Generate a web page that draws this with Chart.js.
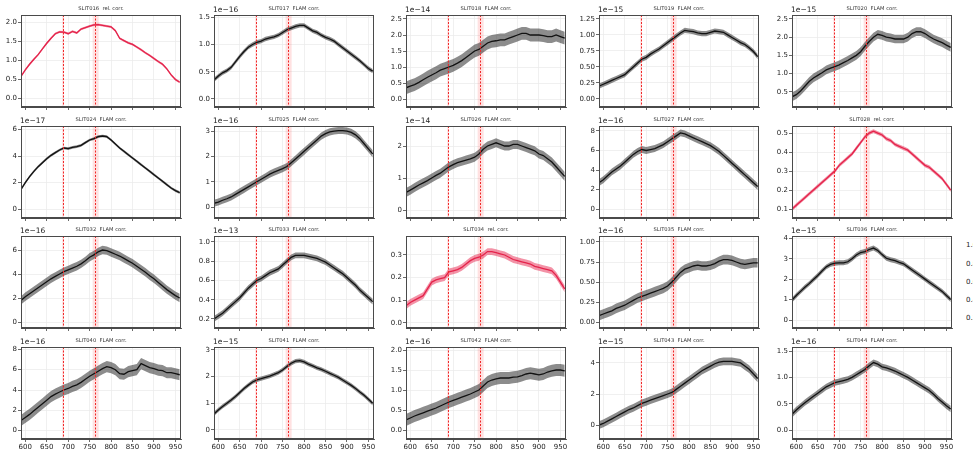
<!DOCTYPE html>
<html><head><meta charset="utf-8">
<script src="https://cdn.jsdelivr.net/npm/chart.js@4.4.1/dist/chart.umd.min.js"></script>
<style>
html,body{margin:0;padding:0;background:#fff;overflow:hidden;width:977px;height:457px;}
#wrap{position:relative;width:977px;height:457px;overflow:hidden;}
canvas{position:absolute;}
#side{position:absolute;left:966px;top:0;width:7px;height:457px;overflow:hidden;}
.cb{position:absolute;left:0;font:7px 'DejaVu Sans',sans-serif;color:#222;line-height:8px;white-space:nowrap;}
</style></head><body><div id="wrap"><div id="side"></div></div>
<script>
// Wavelength grid (nm)
const WL=[590,600,610,620,630,640,650,660,670,680,690,700,710,720,730,740,750,760,770,780,790,800,810,820,830,840,850,860,870,880,890,900,910,920,930,940,950,960];

// Spectra (values in the units shown on each panel's axis)
const slit016=[0.58,0.75,0.90,1.03,1.15,1.30,1.45,1.58,1.70,1.75,1.74,1.70,1.76,1.72,1.82,1.86,1.90,1.93,1.94,1.92,1.90,1.88,1.78,1.58,1.52,1.46,1.42,1.35,1.28,1.20,1.13,1.05,0.97,0.90,0.78,0.62,0.50,0.43];
const slit017=[0.35,0.42,0.48,0.52,0.58,0.68,0.78,0.87,0.95,1.00,1.04,1.06,1.10,1.12,1.14,1.17,1.22,1.27,1.30,1.33,1.35,1.35,1.30,1.25,1.22,1.17,1.13,1.10,1.06,1.00,0.94,0.88,0.82,0.76,0.70,0.63,0.56,0.51];
const slit018=[0.35,0.40,0.45,0.52,0.60,0.68,0.75,0.82,0.90,0.95,1.00,1.05,1.12,1.20,1.30,1.40,1.50,1.55,1.65,1.75,1.80,1.82,1.85,1.85,1.90,1.95,2.00,2.05,2.05,2.00,2.00,2.00,1.98,1.95,1.95,2.00,1.95,1.90];
const slit019=[0.20,0.23,0.26,0.29,0.32,0.35,0.38,0.44,0.50,0.56,0.62,0.65,0.70,0.74,0.78,0.83,0.88,0.93,0.98,1.03,1.07,1.06,1.05,1.03,1.02,1.02,1.04,1.06,1.05,1.04,1.00,0.96,0.92,0.88,0.85,0.80,0.74,0.66];
const slit020=[0.36,0.42,0.52,0.65,0.78,0.88,0.95,1.02,1.10,1.15,1.19,1.24,1.30,1.36,1.43,1.50,1.60,1.75,1.88,2.00,2.08,2.05,2.00,1.98,1.95,1.95,1.95,2.00,2.10,2.15,2.15,2.10,2.02,1.95,1.90,1.85,1.78,1.72];
const slit024=[1.5,2.0,2.45,2.85,3.2,3.5,3.8,4.05,4.25,4.45,4.6,4.55,4.65,4.7,4.8,5.0,5.2,5.3,5.45,5.5,5.45,5.2,4.9,4.6,4.35,4.1,3.85,3.6,3.35,3.1,2.85,2.6,2.35,2.1,1.85,1.6,1.4,1.25];
const slit025=[0.15,0.2,0.27,0.33,0.4,0.5,0.6,0.7,0.8,0.9,1.0,1.1,1.2,1.3,1.38,1.45,1.52,1.6,1.75,1.9,2.05,2.2,2.35,2.5,2.65,2.8,2.9,2.97,3.0,3.02,3.02,3.0,2.95,2.85,2.7,2.5,2.3,2.1];
const slit026=[0.55,0.62,0.7,0.78,0.85,0.92,1.0,1.08,1.15,1.25,1.35,1.42,1.48,1.52,1.56,1.6,1.65,1.75,1.9,2.0,2.05,2.1,2.05,2.0,2.0,2.05,2.05,2.0,1.95,1.9,1.85,1.75,1.7,1.6,1.5,1.35,1.2,1.05];
const slit027=[2.7,3.0,3.4,3.8,4.1,4.4,4.8,5.2,5.6,5.9,6.1,6.0,6.1,6.2,6.4,6.6,6.9,7.2,7.5,7.8,7.7,7.5,7.3,7.1,6.9,6.7,6.5,6.2,5.9,5.5,5.1,4.7,4.3,3.9,3.5,3.1,2.7,2.3];
const slit028=[0.1,0.12,0.14,0.16,0.18,0.2,0.22,0.24,0.26,0.28,0.3,0.33,0.35,0.37,0.39,0.42,0.45,0.48,0.5,0.51,0.5,0.49,0.47,0.46,0.44,0.43,0.42,0.41,0.39,0.37,0.35,0.33,0.32,0.3,0.28,0.26,0.23,0.2];
const slit032=[1.8,2.1,2.35,2.6,2.85,3.1,3.35,3.6,3.8,4.0,4.2,4.35,4.5,4.65,4.85,5.1,5.4,5.6,5.85,6.0,5.95,5.8,5.65,5.5,5.3,5.1,4.9,4.65,4.4,4.15,3.85,3.6,3.3,3.0,2.7,2.45,2.2,2.0];
const slit033=[0.2,0.23,0.26,0.3,0.34,0.38,0.42,0.47,0.52,0.56,0.6,0.62,0.65,0.68,0.7,0.72,0.76,0.8,0.84,0.86,0.86,0.86,0.85,0.84,0.83,0.81,0.79,0.76,0.73,0.7,0.67,0.63,0.59,0.55,0.5,0.46,0.42,0.38];
const slit034=[0.075,0.09,0.1,0.11,0.12,0.15,0.18,0.19,0.195,0.2,0.225,0.23,0.235,0.245,0.26,0.275,0.285,0.29,0.3,0.315,0.315,0.31,0.305,0.3,0.29,0.28,0.275,0.27,0.265,0.26,0.25,0.245,0.24,0.235,0.23,0.21,0.18,0.15];
const slit035=[0.08,0.1,0.12,0.14,0.17,0.19,0.21,0.24,0.27,0.3,0.32,0.34,0.36,0.38,0.4,0.42,0.45,0.5,0.56,0.62,0.66,0.68,0.7,0.71,0.7,0.7,0.71,0.73,0.76,0.78,0.78,0.77,0.75,0.73,0.72,0.73,0.74,0.74];
const slit036=[0.98,1.2,1.4,1.6,1.78,1.98,2.18,2.4,2.6,2.72,2.78,2.8,2.8,2.85,3.0,3.18,3.3,3.35,3.45,3.52,3.4,3.2,3.02,2.95,2.9,2.82,2.75,2.6,2.45,2.3,2.15,2.0,1.85,1.7,1.55,1.4,1.2,1.0];
const slit040=[1.0,1.3,1.6,1.95,2.3,2.65,3.0,3.35,3.6,3.8,4.0,4.15,4.35,4.5,4.75,5.05,5.35,5.6,5.85,6.1,6.3,6.2,6.0,5.6,5.55,5.8,5.9,6.0,6.6,6.4,6.2,6.1,5.95,5.9,5.7,5.7,5.6,5.5];
const slit041=[0.6,0.75,0.88,1.0,1.12,1.25,1.4,1.55,1.68,1.8,1.88,1.92,1.97,2.02,2.08,2.15,2.25,2.38,2.5,2.58,2.6,2.55,2.47,2.4,2.33,2.27,2.2,2.12,2.05,1.97,1.87,1.77,1.67,1.55,1.42,1.3,1.15,1.0];
const slit042=[0.25,0.3,0.35,0.39,0.43,0.47,0.51,0.55,0.6,0.65,0.7,0.74,0.78,0.82,0.86,0.9,0.95,1.0,1.1,1.2,1.25,1.28,1.3,1.3,1.3,1.32,1.33,1.36,1.4,1.42,1.4,1.38,1.4,1.45,1.48,1.5,1.5,1.48];
const slit043=[0.0,0.1,0.25,0.4,0.55,0.7,0.85,1.0,1.1,1.25,1.4,1.5,1.6,1.7,1.8,1.9,2.0,2.1,2.3,2.5,2.7,2.9,3.1,3.3,3.5,3.65,3.8,3.95,4.05,4.1,4.1,4.1,4.05,4.0,3.8,3.6,3.3,3.0];
const slit044=[0.3,0.38,0.45,0.52,0.58,0.64,0.7,0.76,0.82,0.86,0.9,0.92,0.94,0.96,1.0,1.05,1.1,1.15,1.22,1.28,1.25,1.2,1.18,1.15,1.12,1.08,1.04,1.0,0.95,0.9,0.85,0.8,0.75,0.68,0.6,0.53,0.46,0.4];

const panelNames=['SLIT016','SLIT017','SLIT018','SLIT019','SLIT020','SLIT024','SLIT025','SLIT026','SLIT027','SLIT028','SLIT032','SLIT033','SLIT034','SLIT035','SLIT036','SLIT040','SLIT041','SLIT042','SLIT043','SLIT044'];
const panelKinds=['rel. corr.','FLAM corr.','FLAM corr.','FLAM corr.','FLAM corr.','FLAM corr.','FLAM corr.','FLAM corr.','FLAM corr.','rel. corr.','FLAM corr.','FLAM corr.','rel. corr.','FLAM corr.','FLAM corr.','FLAM corr.','FLAM corr.','FLAM corr.','FLAM corr.','FLAM corr.'];
const panelExps=[null,'1e\u221216','1e\u221214','1e\u221215','1e\u221215','1e\u221217','1e\u221216','1e\u221214','1e\u221216',null,'1e\u221216','1e\u221213',null,'1e\u221216','1e\u221215','1e\u221216','1e\u221215','1e\u221216','1e\u221215','1e\u221216'];
const panelSeries=[slit016,slit017,slit018,slit019,slit020,slit024,slit025,slit026,slit027,slit028,slit032,slit033,slit034,slit035,slit036,slit040,slit041,slit042,slit043,slit044];
// typical half-width of the point scatter around each spectrum
const panelScatter=[0.03,0.04,0.2,0.04,0.12,0.1,0.14,0.14,0.35,0.01,0.35,0.03,0.015,0.06,0.12,0.55,0.08,0.15,0.25,0.06];
const yMin=[-0.22,-0.147,-0.25,-0.125,0.08,-0.65,-0.43,-0.25,-0.92,0.053,-0.5,0.106,-0.023,-0.075,-0.39,-0.82,-0.34,-0.225,-0.9,-0.17];
const yMax=[2.19,1.54,2.625,1.31,2.61,6.25,3.2,2.625,8.51,0.537,7.17,1.062,0.384,1.075,4.11,8.23,3.11,2.075,5.03,1.576];
const yStep=[0.5,0.5,0.5,0.25,0.5,2,1,1,2,0.1,2,0.2,0.1,0.25,1,2,1,0.5,2,0.5];
const xTicks=[600,650,700,750,800,850,900,950];
const telluricBands=[[686,690],[757,771]];
const telluricLines=[687.5,761.5];
const sideLabels=['1.0','0.8','0.6','0.4','0.2'];

const colLeft=[21,214,406,599,792];
const rowTop=[15,126,236,347];
const PW=160, PH=92, AXW=30, PADT=15, PADR=6, AXH=20;
const FONT="'DejaVu Sans', sans-serif";

const deco={
  id:'deco',
  beforeDatasetsDraw(chart){
    const {ctx,chartArea:a,scales:{x}}=chart;
    ctx.save();
    ctx.fillStyle='rgba(255,70,70,0.16)';
    telluricBands.forEach(([l,h])=>{
      const x0=x.getPixelForValue(l),x1=x.getPixelForValue(h);
      ctx.fillRect(x0,a.top,x1-x0,a.bottom-a.top);
    });
    ctx.restore();
  },
  afterDatasetsDraw(chart,args,opts){
    const {ctx,chartArea:a,scales:{x}}=chart;
    ctx.save();
    ctx.strokeStyle='rgb(240,40,40)';
    ctx.lineWidth=1;
    ctx.setLineDash([2,1.5]);
    telluricLines.forEach(w=>{
      const px=Math.round(x.getPixelForValue(w))+0.5;
      ctx.beginPath();ctx.moveTo(px,a.top);ctx.lineTo(px,a.bottom);ctx.stroke();
    });
    ctx.setLineDash([]);
    ctx.strokeStyle='#4a4a4a';
    ctx.strokeRect(a.left+0.5,a.top+0.5,a.right-a.left-1,a.bottom-a.top-1);
    ctx.fillStyle='#333';
    ctx.font='5.2px '+FONT;
    ctx.textAlign='center';ctx.textBaseline='middle';
    ctx.fillText(opts.title,(a.left+a.right)/2,a.top-6);
    if(opts.exp){
      ctx.font='7.5px '+FONT;ctx.fillStyle='#222';
      ctx.textAlign='left';
      ctx.fillText(opts.exp,a.left-1,a.top-5);
    }
    ctx.restore();
  }
};

const wrap=document.getElementById('wrap');
panelNames.forEach((name,i)=>{
  const r=Math.floor(i/5), c=i%5;
  const cv=document.createElement('canvas');
  const W=AXW+PW+PADR, H=PADT+PH+AXH;
  cv.width=W;cv.height=H;
  cv.style.left=(colLeft[c]-AXW)+'px';cv.style.top=(rowTop[r]-PADT)+'px';
  cv.style.width=W+'px';cv.style.height=H+'px';
  wrap.appendChild(cv);
  const red=panelKinds[i]==='rel. corr.';
  const s=panelSeries[i], w=panelScatter[i];
  const lo=WL.map((x,k)=>({x,y:s[k]-w}));
  const hi=WL.map((x,k)=>({x,y:s[k]+w}));
  const mid=WL.map((x,k)=>({x,y:s[k]}));
  const fillCol=red?'rgba(232,40,80,0.5)':'rgba(25,25,25,0.5)';
  const lineCol=red?'rgb(226,30,70)':'rgb(10,10,10)';
  const dec=(String(yStep[i]).split('.')[1]||'').length;
  const bottom=(r===3);
  new Chart(cv,{
    type:'line',
    data:{datasets:[
      {data:lo,borderWidth:0,borderColor:'rgba(0,0,0,0)',pointRadius:0,fill:false,tension:0},
      {data:hi,borderWidth:0,borderColor:'rgba(0,0,0,0)',pointRadius:0,fill:'-1',backgroundColor:fillCol,tension:0},
      {data:mid,borderWidth:1.3,borderColor:lineCol,pointRadius:0,fill:false,tension:0}
    ]},
    options:{
      responsive:false,animation:false,devicePixelRatio:1,
      layout:{padding:{top:PADT,right:PADR,left:0,bottom:0}},
      plugins:{legend:{display:false},tooltip:{enabled:false},title:{display:false},
        deco:{title:name+'  '+panelKinds[i],exp:panelExps[i]}},
      scales:{
        x:{type:'linear',min:590,max:963,
          afterFit:sc=>{sc.height=AXH;},
          afterBuildTicks:sc=>{sc.ticks=xTicks.map(v=>({value:v}));},
          ticks:{display:bottom,font:{family:FONT,size:7},color:'#222',padding:1,maxRotation:0,autoSkip:false,callback:v=>String(v)},
          grid:{color:'#ececec',lineWidth:0.8,tickLength:3,tickColor:'#444',drawTicks:true},
          border:{color:'#4a4a4a',width:1}},
        y:{type:'linear',min:yMin[i],max:yMax[i],
          afterFit:sc=>{sc.width=AXW;},
          ticks:{stepSize:yStep[i],includeBounds:false,font:{family:FONT,size:7},color:'#222',padding:1,callback:v=>v.toFixed(dec).replace('-','\u2212')},
          grid:{color:'#ececec',lineWidth:0.8,tickLength:3,tickColor:'#444',drawTicks:true},
          border:{color:'#4a4a4a',width:1}}
      }
    },
    plugins:[deco]
  });
});
// partially visible labels at the right page edge
const side=document.getElementById('side');
const sideY=[245,264,282,300,318];
sideLabels.forEach((t,k)=>{
  const d=document.createElement('div');d.className='cb';d.textContent=t;
  d.style.top=(sideY[k]-4)+'px';side.appendChild(d);
});
</script></body></html>
